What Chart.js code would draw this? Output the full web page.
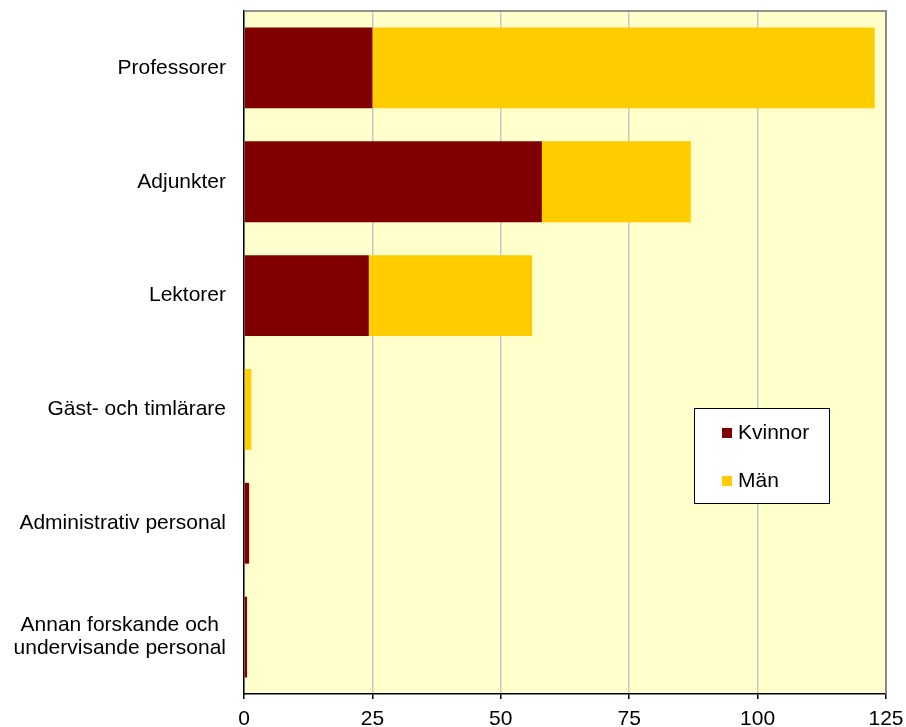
<!DOCTYPE html>
<html>
<head>
<meta charset="utf-8">
<script src="https://cdn.jsdelivr.net/npm/chart.js@4"></script>
<style>
    html, body { margin: 0; padding: 0; background: #ffffff; }
    #wrap { width: 906px; height: 727px; }
</style>
</head>
<body>
<div id="wrap"><canvas id="staff-chart" width="906" height="727"></canvas></div>
<script>
// Personal per kategori, kvinnor och män
const categories = [
    'Professorer',
    'Adjunkter',
    'Lektorer',
    'Gäst- och timlärare',
    'Administrativ personal',
    ['Annan forskande och', 'undervisande personal']
];
const kvinnor = [25, 58, 24.3, 0, 1, 0.6];
const man = [97.8, 29, 31.8, 1.4, 0, 0];
const xTicks = [0, 25, 50, 75, 100, 125];

const FONT = { family: "'Liberation Sans', Arial, sans-serif", size: 21 };

// plot background + top/right frame
const plotFrame = {
    id: 'plotFrame',
    beforeDraw(chart) {
        const { ctx, chartArea: a } = chart;
        ctx.save();
        ctx.fillStyle = '#FFFFCC';
        ctx.fillRect(a.left, a.top, a.right - a.left, a.bottom - a.top);
        ctx.restore();
    },
    afterDraw(chart) {
        const { ctx, chartArea: a } = chart;
        ctx.save();
        ctx.strokeStyle = '#707070';
        ctx.lineWidth = 1.5;
        ctx.beginPath();
        ctx.moveTo(a.left, a.top);
        ctx.lineTo(a.right, a.top);
        ctx.lineTo(a.right, a.bottom);
        ctx.stroke();
        ctx.restore();
    }
};

// category labels: right aligned, multi-line ones centred as a block
const catLabels = {
    id: 'catLabels',
    afterDraw(chart) {
        const ctx = chart.ctx;
        const yScale = chart.scales.y;
        const right = yScale.right - 18;
        ctx.save();
        ctx.font = FONT.size + 'px ' + FONT.family;
        ctx.fillStyle = '#000000';
        ctx.textBaseline = 'middle';
        chart.data.labels.forEach((lab, i) => {
            const cy = yScale.getPixelForTick(i);
            if (Array.isArray(lab)) {
                const maxW = Math.max(...lab.map(s => ctx.measureText(s).width));
                const cx = right - maxW / 2;
                const lh = 23;
                ctx.textAlign = 'center';
                lab.forEach((s, j) => {
                    ctx.fillText(s, cx, cy + (j - (lab.length - 1) / 2) * lh);
                });
            } else {
                ctx.textAlign = 'right';
                ctx.fillText(lab, right, cy);
            }
        });
        ctx.restore();
    }
};

// legend box inside the plot, like the original
const boxLegend = {
    id: 'boxLegend',
    afterDraw(chart) {
        const ctx = chart.ctx;
        const x = 694.5, y = 408.5, w = 135, h = 95;
        ctx.save();
        ctx.fillStyle = '#ffffff';
        ctx.fillRect(x, y, w, h);
        ctx.strokeStyle = '#000000';
        ctx.lineWidth = 1;
        ctx.strokeRect(x, y, w, h);
        ctx.font = FONT.size + 'px ' + FONT.family;
        ctx.textBaseline = 'middle';
        ctx.textAlign = 'left';
        chart.data.datasets.forEach((ds, i) => {
            const cy = 433 + i * 48;
            ctx.fillStyle = ds.backgroundColor;
            ctx.fillRect(722, cy - 5, 10, 10);
            ctx.fillStyle = '#000000';
            ctx.fillText(ds.label, 738, cy);
        });
        ctx.restore();
    }
};

const ctx = document.getElementById('staff-chart').getContext('2d');
new Chart(ctx, {
    type: 'bar',
    data: {
        labels: categories,
        datasets: [
            {
                label: 'Kvinnor',
                data: kvinnor,
                backgroundColor: '#800000',
                categoryPercentage: 1,
                barPercentage: 0.71
            },
            {
                label: 'Män',
                data: man,
                backgroundColor: '#FFCC00',
                categoryPercentage: 1,
                barPercentage: 0.71
            }
        ]
    },
    options: {
        indexAxis: 'y',
        responsive: false,
        animation: false,
        layout: { padding: { top: 11, right: 20, left: 0, bottom: 0 } },
        plugins: {
            legend: { display: false },
            tooltip: { enabled: false }
        },
        scales: {
            x: {
                stacked: true,
                min: 0,
                max: 125,
                afterBuildTicks(scale) {
                    scale.ticks = xTicks.map(v => ({ value: v }));
                },
                afterFit(scale) {
                    scale.height = 33;
                    scale.paddingLeft = 0;
                    scale.paddingRight = 0;
                },
                grid: {
                    color: '#C8C8C8',
                    lineWidth: 1.5,
                    tickColor: '#000000',
                    tickLength: 5
                },
                border: { display: true, color: '#000000', width: 1.5 },
                ticks: {
                    color: '#000000',
                    font: FONT,
                    padding: 8,
                    maxRotation: 0
                }
            },
            y: {
                stacked: true,
                afterFit(scale) {
                    scale.width = 244;
                    scale.paddingTop = 0;
                    scale.paddingBottom = 0;
                },
                grid: { drawOnChartArea: false, drawTicks: false },
                border: { display: true, color: '#000000', width: 1.5 },
                ticks: { display: false }
            }
        }
    },
    plugins: [plotFrame, catLabels, boxLegend]
});
</script>
</body>
</html>
